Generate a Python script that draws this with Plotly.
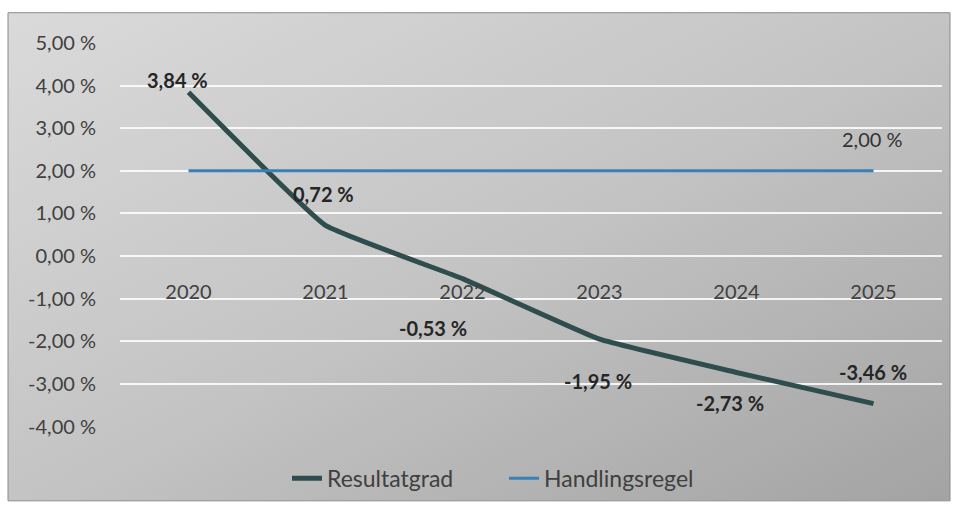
import plotly.graph_objects as go

years = ["2020", "2021", "2022", "2023", "2024", "2025"]
resultatgrad = [3.84, 0.72, -0.53, -1.95, -2.73, -3.46]
handlingsregel = [2.00, 2.00, 2.00, 2.00, 2.00, 2.00]
y_ticks = [5, 4, 3, 2, 1, 0, -1, -2, -3, -4]
y_tick_labels = ["5,00 %", "4,00 %", "3,00 %", "2,00 %", "1,00 %", "0,00 %",
                 "-1,00 %", "-2,00 %", "-3,00 %", "-4,00 %"]


def fmt(v):
    return ("%.2f" % v).replace(".", ",") + " %"


W, H = 957, 517
L, R, T, B = 120, 15, 42, 12
pw, ph = W - L - R, H - T - B
PLOT_BOTTOM = 436  # pixel row of the bottom of the y axis

def px_x(p):
    return (p - L) / pw

def px_y(p):
    return (H - B - p) / ph

y_dom0 = px_y(PLOT_BOTTOM)
yr = [-4, 5.02]
x_axis_pos = y_dom0 + (0 - yr[0]) / (yr[1] - yr[0]) * (1 - y_dom0)

gradient_svg = (
    "data:image/svg+xml;utf8,"
    "<svg xmlns='http://www.w3.org/2000/svg' width='942' height='500' viewBox='0 0 942 500' preserveAspectRatio='none'>"
    "<defs><linearGradient id='g' x1='0' y1='0' x2='1' y2='1'>"
    "<stop offset='0' stop-color='%23dadada'/>"
    "<stop offset='0.5' stop-color='%23c4c4c4'/>"
    "<stop offset='1' stop-color='%23a3a3a3'/>"
    "</linearGradient></defs>"
    "<rect width='942' height='500' fill='url(%23g)'/></svg>"
)

fig = go.Figure()

fig.add_trace(go.Scatter(
    x=years, y=resultatgrad, name="Resultatgrad", mode="lines",
    line=dict(color="#2f4d4d", width=5, shape="spline", smoothing=0.3),
))
fig.add_trace(go.Scatter(
    x=years, y=handlingsregel, name="Handlingsregel", mode="lines",
    line=dict(color="#3a80b5", width=3),
))

# data label offsets in pixels (style only)
res_offsets = [(-11, 12), (-2, 31), (-30, -49), (-2, -42), (-7, -31), (-1, 32)]
annotations = []
for i, v in enumerate(resultatgrad):
    dx, dy = res_offsets[i]
    annotations.append(dict(
        x=i, y=v, xref="x", yref="y", text="<b>" + fmt(v) + "</b>", showarrow=False,
        xshift=dx, yshift=dy, font=dict(family="Lato", size=20, color="#262626"),
    ))
last = len(handlingsregel) - 1
annotations.append(dict(
    x=last, y=handlingsregel[last], xref="x", yref="y", text=fmt(handlingsregel[last]),
    showarrow=False, xshift=-1, yshift=32,
    font=dict(family="Lato", size=20, color="#333333"),
))

fig.update_layout(
    width=W, height=H,
    margin=dict(l=L, r=R, t=T, b=B),
    paper_bgcolor="white",
    plot_bgcolor="rgba(0,0,0,0)",
    font=dict(family="Lato", size=20, color="#404040"),
    showlegend=True,
    legend=dict(orientation="h", x=px_x(504), xanchor="center", y=px_y(511), yanchor="bottom",
                font=dict(family="Lato", size=23, color="#404040"),
                entrywidth=172, entrywidthmode="pixels",
                bgcolor="rgba(0,0,0,0)"),
    images=[dict(source=gradient_svg, xref="paper", yref="paper",
                 x=px_x(8), y=px_y(12), sizex=942 / pw, sizey=500 / ph,
                 sizing="stretch", layer="below", xanchor="left", yanchor="top")],
    shapes=[dict(type="rect", xref="paper", yref="paper",
                 x0=px_x(8), x1=px_x(950), y0=px_y(512), y1=px_y(12),
                 line=dict(color="#8a8a8a", width=1), fillcolor="rgba(0,0,0,0)", layer="below")],
    annotations=annotations,
)

fig.update_yaxes(
    domain=[y_dom0, 1],
    range=yr, tickvals=y_ticks, ticktext=y_tick_labels,
    showgrid=True, gridcolor="rgba(255,255,255,0.85)", gridwidth=1.5,
    zeroline=False, showline=False, ticks="", ticklabelstandoff=23,
    tickfont=dict(family="Lato", size=20, color="#404040"),
)
fig.update_xaxes(
    type="category", range=[-0.5, 5.5], anchor="free", position=x_axis_pos,
    showgrid=False, zeroline=False, showline=False, ticks="",
    ticklabelstandoff=22,
    tickfont=dict(family="Lato", size=20, color="#404040"),
)

fig.write_html("out.html", config={"displayModeBar": False},
               post_script="document.body.style.margin='0';")
